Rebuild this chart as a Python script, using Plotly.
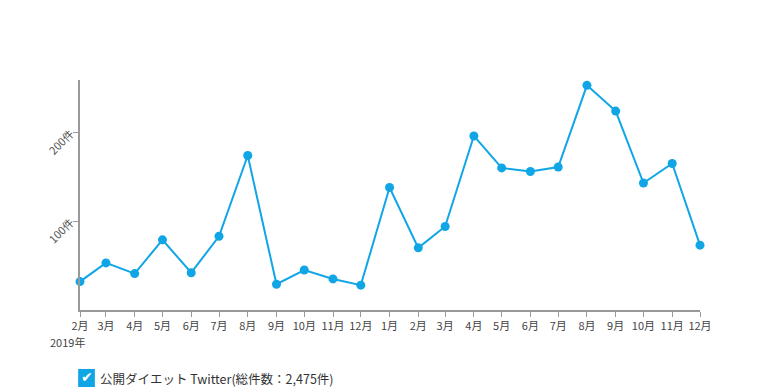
import plotly.graph_objects as go

months = ["2019-02-01", "2019-03-01", "2019-04-01", "2019-05-01", "2019-06-01", "2019-07-01",
          "2019-08-01", "2019-09-01", "2019-10-01", "2019-11-01", "2019-12-01",
          "2020-01-01", "2020-02-01", "2020-03-01", "2020-04-01", "2020-05-01", "2020-06-01",
          "2020-07-01", "2020-08-01", "2020-09-01", "2020-10-01", "2020-11-01", "2020-12-01"]
counts = [32, 53, 41, 79, 42, 83, 174, 29, 45, 35, 28,
          138, 70, 94, 196, 160, 156, 161, 253, 224, 143, 165, 73]
series_name = "公開ダイエット Twitter(総件数：2,475件)"
year_label = "2019年"
y_ticks = [100, 200]
y_tick_text = ["100件", "200件"]

color = "#10a6e6"
font_family = "Noto Sans CJK JP, Noto Sans, sans-serif"

fig = go.Figure()
fig.add_trace(go.Scatter(
    x=months, y=counts, mode="lines+markers",
    line=dict(color=color, width=2),
    marker=dict(color=color, size=9),
    cliponaxis=False, showlegend=False, name=series_name,
))

fig.update_layout(
    width=780, height=390,
    margin=dict(l=80, r=80, t=80, b=80),
    paper_bgcolor="white", plot_bgcolor="white",
    font=dict(family=font_family, size=11, color="#555"),
    xaxis=dict(
        type="date", range=[months[0], months[-1]],
        dtick="M1", tick0=months[0], tickformat="%-m月",
        showgrid=False, zeroline=False,
        showline=True, linecolor="#999", linewidth=2,
        ticks="outside", ticklen=5, tickcolor="#999", tickwidth=1,
        tickfont=dict(size=11, color="#444"),
    ),
    yaxis=dict(
        range=[0, 259], tickvals=y_ticks, ticktext=y_tick_text,
        tickangle=-45, showgrid=False, zeroline=False,
        showline=True, linecolor="#999", linewidth=2,
        ticks="outside", ticklen=5, tickcolor="#999", tickwidth=1,
        tickfont=dict(size=11, color="#555"),
    ),
)

fig.add_annotation(text=year_label, xref="paper", yref="paper",
                   x=-0.052, y=-0.139, xanchor="left", yanchor="middle",
                   showarrow=False, font=dict(size=11, color="#444"))

# legend checkbox
fig.add_shape(type="rect", xref="paper", yref="paper",
              x0=-0.003, x1=0.024, y0=-0.3348, y1=-0.2565,
              fillcolor=color, line=dict(width=0))
fig.add_annotation(text="✔", xref="paper", yref="paper",
                   x=0.0105, y=-0.292, xanchor="center", yanchor="middle",
                   showarrow=False, font=dict(size=14, color="white", family="DejaVu Sans"))
fig.add_annotation(text=series_name, xref="paper", yref="paper",
                   x=0.029, y=-0.2957, xanchor="left", yanchor="middle",
                   showarrow=False, font=dict(size=12.5, color="#333"))

fig.write_html("out.html")
